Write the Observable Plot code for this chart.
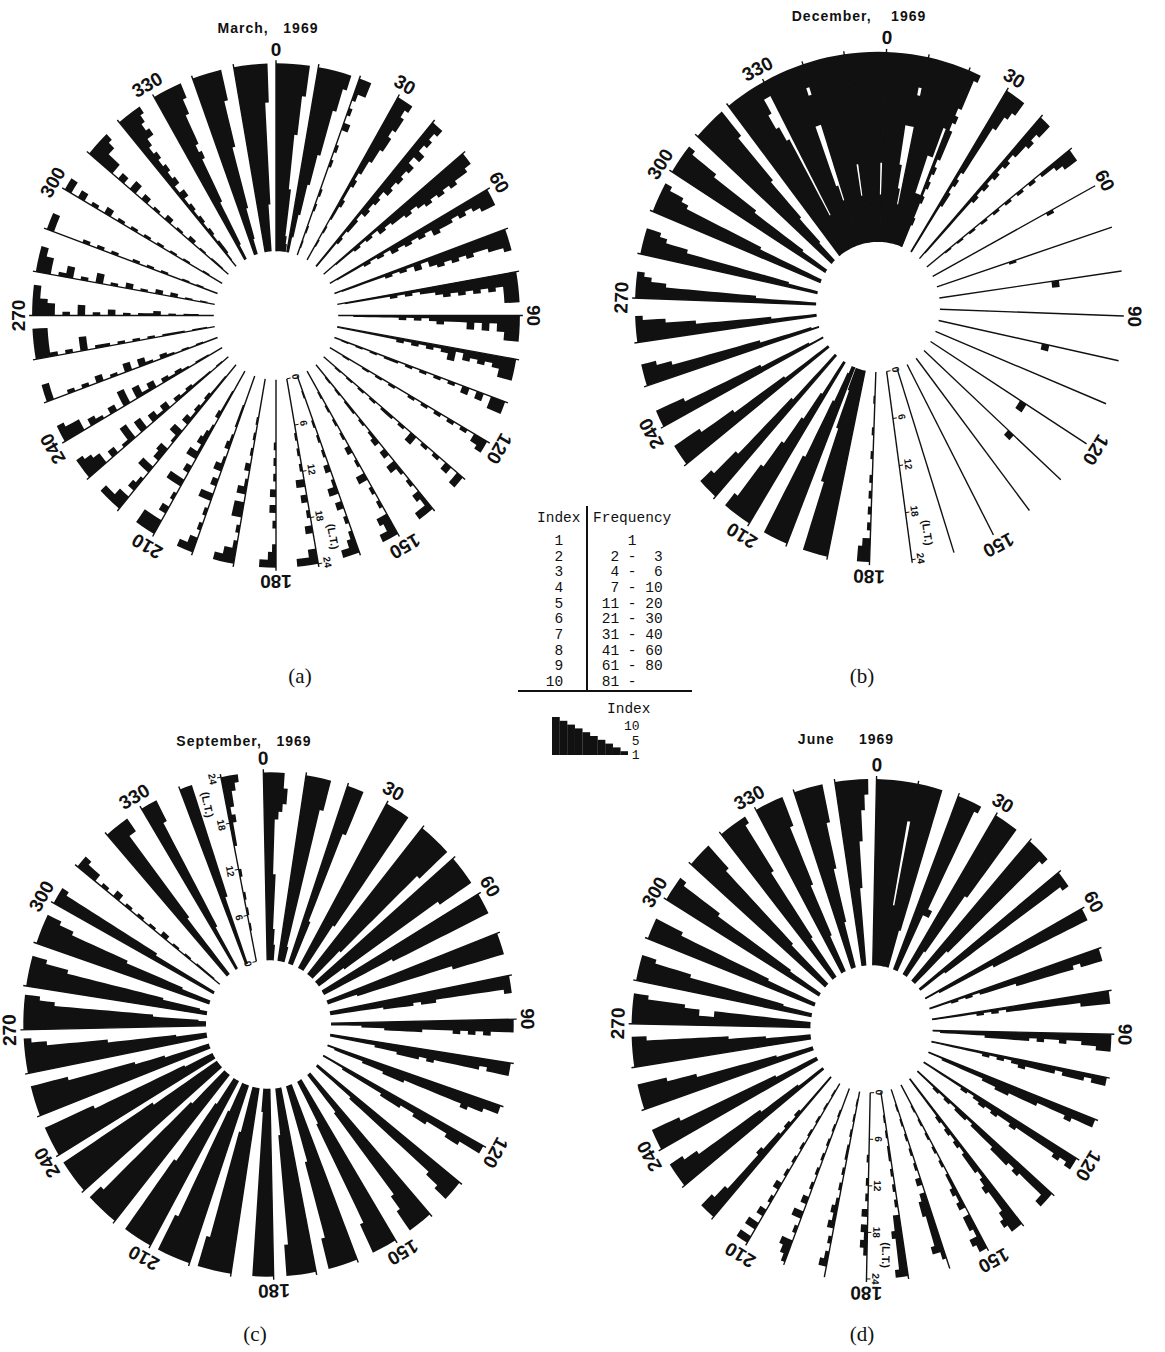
<!DOCTYPE html>
<html>
<head>
<meta charset="utf-8">
<script src="https://cdn.jsdelivr.net/npm/d3@7"></script>
<script src="https://cdn.jsdelivr.net/npm/@observablehq/plot@0.6"></script>
<style>
  html, body { margin: 0; padding: 0; background: #fff; }
  #page { position: relative; width: 1165px; height: 1352px; overflow: hidden; background: #fff; }
  .title { position: absolute; font-family: "Liberation Sans", Arial, sans-serif; font-weight: bold; font-size: 14px; letter-spacing: 1px; white-space: pre; color: #111; transform: translate(-50%, -50%); }
  .cap { position: absolute; font-family: "Liberation Serif", "DejaVu Serif", serif; font-size: 21px; color: #111; transform: translate(-50%, -50%); }
  .mono { position: absolute; font-family: "Liberation Mono", "DejaVu Sans Mono", monospace; font-size: 14.5px; white-space: pre; color: #111; line-height: 1; }
  .mono.small { font-size: 13px; }
  .rule { position: absolute; background: #111; }
</style>
</head>
<body>
<div id="page"></div>
<script>
// ---------- data ----------
const spokeAngles = d3.range(0, 360, 10);   // direction of each spoke (degrees)
const labelAngles = d3.range(0, 360, 30);   // labelled directions
const ltTicks = [0, 6, 12, 18, 24];         // local-time scale ticks

// index (0..10, 'a' = 10) per local-time hour 0..23 (inner -> outer), one string per spoke 0,10,...,350
const march = [
  "987777 776666 666777 778888", "223334 444555 566666 677788", "010100 101000 101002 010133",
  "001010 112112 122334 434434", "111121 221323 243434 242323", "001112 121323 343454 545443",
  "011112 121323 232433 232344", "011111 121213 134343 433445", "011111 121212 234343 434377",
  "001111 112121 232224 242466", "111111 112121 212413 232355", "010101 011010 101010 202033",
  "001001 010100 101010 101023", "001010 101011 010301 010203", "001010 110101 202031 010214",
  "000101 010102 010301 010324", "001000 101010 201302 010124", "000000 010101 030201 020025",
  "000000 001010 102020 100124", "000001 010102 013033 010135", "000011 101201 302040 101024",
  "000111 201231 402050 102055", "001112 121304 103204 012036", "010111 212031 304051 020345",
  "001101 212031 405020 120334", "001010 120130 301020 101004", "011011 101010 101104 010177",
  "001101 021101 020103 010347", "010102 020102 010301 031046", "001010 010101 001010 100004",
  "001001 010101 010102 010203", "011010 201020 102030 203356", "012212 121213 132323 235456",
  "223333 334444 445455 556677", "334444 555555 556666 667777", "666666 777777 777777 788888"
];
const december = [
  "aaaaa9 988877 777aaa a9aaaa", "aaaaaa a77777 9999aa aaaaaa", "111211 212121 222212 122223",
  "111111 122121 222222 233455", "011111 111121 212121 223233", "000101 010101 010101 011233",
  "000000 000000 000001 000000", "000000 000010 000000 000000", "000000 000000 000200 000000",
  "000000 000000 000000 000000", "000000 000000 002000 000000", "000000 000000 000000 000000",
  "000000 000000 003000 000000", "000000 000000 000200 000000", "000000 000000 000000 000000",
  "000000 000000 000000 000000", "000000 000000 000000 000000", "000000 000000 000000 000000",
  "000100 010010 010101 010233", "999888 887777 777666 666666", "344445 555555 566666 666666",
  "222223 333444 455556 666677", "222222 223333 333333 444455", "222222 233333 333444 445555",
  "112222 222333 333333 334444", "122222 223333 333333 334455", "222222 333333 333344 445556",
  "222222 223333 333333 334456", "222233 333333 333333 444566", "333333 333444 444444 445667",
  "333344 444444 555555 566667", "444555 566666 677777 778888", "aaaaa9 999999 999988 7788aa",
  "aaaaaa 998888 8888aa aa9aaa", "aaaaaa 9999aa aaaaaa aaaaaa", "aaaaaa 9999aa aaaaaa aaaaaa"
];
const september = [
  "665544 444443 333333 456655", "665555 555555 555555 556666", "444444 333333 333333 444444",
  "555555 566666 666666 666666", "666667 777777 777777 788888", "555566 666666 666666 677777",
  "444444 444455 555555 555555", "333344 444444 444445 555555", "333333 344443 443333 333334",
  "222233 344444 333343 434333", "222222 333444 343333 332333", "122223 334443 333333 343322",
  "111222 222333 223322 233222", "222222 333333 333333 334455", "333333 444444 444444 455666",
  "444444 555555 555555 556666", "555555 555566 666666 667777", "555555 666666 666666 667777",
  "666555 555555 555555 555555", "666666 777777 777777 778888", "666677 777777 777777 788888",
  "555566 666666 677777 777777", "666666 777777 777777 777788", "777777 777788 888888 888888",
  "555566 666666 666667 777777", "444444 555566 666666 677777", "444455 555555 566666 666778",
  "455555 566666 666666 667788", "344444 555555 555555 566677", "333344 444444 555555 556677",
  "222222 222333 333333 333334", "011101 010201 010102 010223", "333333 333444 444444 444466",
  "222222 333333 333333 333444", "222222 222333 333333 333333", "000010 101001 000111 212234"
];
const june = [
  "aaaaaa aa9999 999999 9aaaaa", "555556 666666 666666 666666", "444444 447555 555555 555556",
  "444455 555555 566666 666666", "444444 555555 555555 555556", "222233 333333 333333 333334",
  "112222 222233 333333 333333", "111212 122222 333333 332333", "111111 212122 222222 223333",
  "122222 233333 323223 223344", "111111 121212 322221 222122", "112222 223344 333322 223222",
  "111111 212323 223222 222323", "111212 122122 223332 322224", "111111 212121 222123 222343",
  "000101 010101 011212 022132", "001010 101010 202332 222310", "000101 011010 101022 322223",
  "000000 001001 010202 121000", "010101 011010 101212 010120", "000101 010101 010203 010321",
  "010101 010101 010201 020303", "111111 212122 232222 223344", "222233 333344 444444 445566",
  "333333 444444 444444 445555", "333334 444444 444455 556666", "444444 555556 666666 666677",
  "555555 555555 533556 666677", "333344 444444 444445 555566", "333333 344444 444444 445555",
  "333334 444444 444445 555556", "444444 455555 555555 556666", "444444 555555 555566 666667",
  "444445 555555 666666 667777", "444444 555555 566666 677777", "444444 444455 555566 667788"
];

const legendIndex = [1, 2, 3, 4, 5, 6, 7, 8, 9, 10];
const legendFrequency = ["    1", "  2 -  3", "  4 -  6", "  7 - 10", " 11 - 20", " 21 - 30", " 31 - 40", " 41 - 60", " 61 - 80", " 81 -"];
const legendScaleTicks = ["10", " 5", " 1"];

// ---------- layout ----------
const panels = [
  {values: march,     title: "March,   1969",     caption: "(a)", cx: 276, cy: 315,  rx: 244, ry: 252, rot: 0,    lt: 170, tx: 268, ty: 28,  capx: 300, capy: 676},
  {values: december,  title: "December,    1969", caption: "(b)", cx: 877, cy: 306,  rx: 243, ry: 255, rot: 2,    lt: 170, tx: 859, ty: 16,  capx: 862, capy: 676},
  {values: september, title: "September,   1969", caption: "(c)", cx: 268, cy: 1024, rx: 245, ry: 252, rot: -1.2, lt: 350, tx: 244, ty: 741, capx: 255, capy: 1334},
  {values: june,      title: "June     1969",     caption: "(d)", cx: 871, cy: 1028, rx: 240, ry: 250, rot: 1.2,  lt: 180, tx: 846, ty: 739, capx: 862, capy: 1334}
];

const page = document.getElementById("page");
const E = 1.15;      // half extent of each panel's domain (in outer-radius units)
const R0 = 0.255;    // inner radius (fraction of outer)
const BOLD = "'Liberation Sans Narrow', 'Liberation Sans', Arial, sans-serif";
const decode = s => { const v = Array.from(s.replace(/\s/g, ""), c => parseInt(c, 16)); while (v.length < 24) v.push(0); return v; };

function addDiv(cls, text, x, y) {
  const d = document.createElement("div");
  d.className = cls; d.textContent = text;
  d.style.left = x + "px"; d.style.top = y + "px";
  page.appendChild(d);
  return d;
}

for (const p of panels) {
  const R = (p.rx + p.ry) / 2;
  const rad = h => R0 + (1 - R0) * h / 24;
  const pt = (r, deg) => { const a = (deg + p.rot) * Math.PI / 180; return [r * Math.sin(a), r * Math.cos(a)]; };
  const arc = (r, d0, d1) => { const n = Math.max(1, Math.ceil(Math.abs(d1 - d0) / 2)); return d3.range(1, n + 1).map(i => pt(r, d0 + (d1 - d0) * i / n)); };

  // one stepped polygon per spoke, bars extend clockwise by "index" degrees
  const bars = [];
  spokeAngles.forEach((ang, i) => {
    const v = decode(p.values[i]);
    const ring = [pt(R0, ang), pt(1, ang)];
    let prev = ang;
    for (let h = 23; h >= 0; h--) {
      const w = ang + v[h];
      ring.push(...arc(rad(h + 1), prev, w));
      ring.push(pt(rad(h), w));
      prev = w;
    }
    ring.push(...arc(R0, prev, ang));
    for (const [x, y] of ring) bars.push({x, y, k: i});
  });

  const spokes = spokeAngles.map(a => ({a, s: pt(R0, a), e: pt(1.012, a)}));
  const labels = labelAngles.map(a => ({a, q: pt(1.055, a)}));
  const ltRot = (((p.lt - 90) % 180) + 180) % 180 + p.rot;
  const ltOff = (h, px) => pt(rad(h), p.lt - (px / (rad(h) * R)) * 180 / Math.PI);
  const ltLab = ltTicks.map(h => ({h, q: ltOff(h, 9), t0: pt(rad(h), p.lt), t1: ltOff(h, 4)}));
  const ltName = [{t: "(L.T.)", q: ltOff(21, 19)}];

  const svg = Plot.plot({
    width: Math.round(2 * E * p.rx), height: Math.round(2 * E * p.ry), margin: 0,
    x: {domain: [-E, E], axis: null}, y: {domain: [-E, E], axis: null},
    style: {background: "transparent", maxWidth: "none", overflow: "visible"},
    marks: [
      Plot.line(bars, {x: "x", y: "y", z: "k", fill: "#111", stroke: "none", curve: "linear"}),
      Plot.link(spokes, {x1: d => d.s[0], y1: d => d.s[1], x2: d => d.e[0], y2: d => d.e[1], stroke: "#111", strokeWidth: 1.4}),
      Plot.text(labels, {x: d => d.q[0], y: d => d.q[1], text: d => String(d.a), rotate: d => d.a + p.rot,
        fontSize: 19, fontWeight: "bold", fontFamily: BOLD, fill: "#111"}),
      Plot.link(ltLab, {x1: d => d.t0[0], y1: d => d.t0[1], x2: d => d.t1[0], y2: d => d.t1[1], stroke: "#111", strokeWidth: 1}),
      Plot.text(ltLab, {x: d => d.q[0], y: d => d.q[1], text: d => String(d.h), rotate: ltRot,
        fontSize: 10, fontWeight: "bold", fontFamily: BOLD, fill: "#111"}),
      Plot.text(ltName, {x: d => d.q[0], y: d => d.q[1], text: "t", rotate: ltRot,
        fontSize: 11, fontWeight: "bold", fontFamily: BOLD, fill: "#111"})
    ]
  });
  const holder = document.createElement("div");
  holder.style.position = "absolute";
  holder.style.left = (p.cx - E * p.rx) + "px";
  holder.style.top = (p.cy - E * p.ry) + "px";
  holder.style.width = Math.round(2 * E * p.rx) + "px";
  holder.appendChild(svg);
  page.appendChild(holder);

  addDiv("title", p.title, p.tx, p.ty);
  addDiv("cap", p.caption, p.capx, p.capy);
}

// ---------- legend ----------
addDiv("mono", "Index", 537, 511);
addDiv("mono", "Frequency", 593, 511);
legendIndex.forEach((v, i) => {
  const y = 534 + i * 15.67;
  addDiv("mono", String(v).padStart(3, " "), 537, y);
  addDiv("mono", legendFrequency[i], 593, y);
});
const vr = addDiv("rule", "", 586, 506); vr.style.width = "1.5px"; vr.style.height = "185px";
const hr = addDiv("rule", "", 518, 690); hr.style.width = "174px"; hr.style.height = "1.5px";

addDiv("mono", "Index", 607, 702);
[720, 734.5, 749].forEach((y, i) => addDiv("mono small", legendScaleTicks[i], 624, y));

const tri = Plot.plot({
  width: 76, height: 38, margin: 0,
  x: {domain: [0, 10], axis: null}, y: {domain: [0, 10], axis: null},
  style: {background: "transparent", maxWidth: "none"},
  marks: [
    Plot.rect(legendIndex.slice().reverse(), {x1: (d, i) => i, x2: (d, i) => i + 1.02, y1: 0, y2: d => d, fill: "#111"})
  ]
});
const triHolder = document.createElement("div");
triHolder.style.position = "absolute"; triHolder.style.left = "552px"; triHolder.style.top = "717px";
triHolder.appendChild(tri);
page.appendChild(triHolder);
</script>
</body>
</html>
